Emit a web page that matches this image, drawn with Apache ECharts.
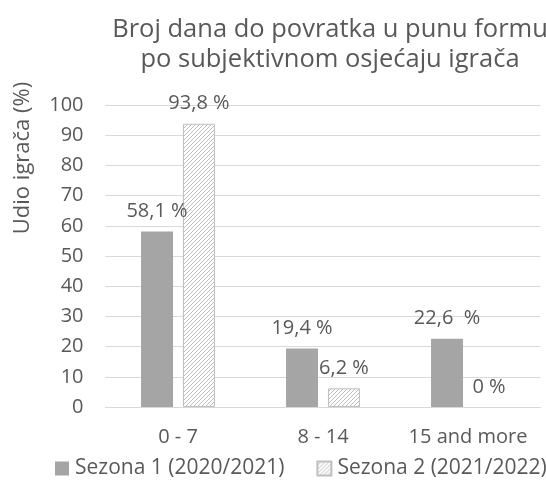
<!DOCTYPE html>
<html><head><meta charset="utf-8">
<script src="https://cdn.jsdelivr.net/npm/echarts@6/dist/echarts.min.js"></script>
<style>html,body{margin:0;padding:0;background:#fff}#c{width:546px;height:486px}</style>
</head><body><div id="c"></div>
<script>
const categories = ['0 - 7', '8 - 14', '15 and more'];
const season1 = [58.1, 19.4, 22.6];
const season2 = [93.8, 6.2, 0];
const season1Labels = ['58,1 %', '19,4 %', '22,6  %'];
const season2Labels = ['93,8 %', '6,2 %', '0 %'];
const seriesNames = ['Sezona 1 (2020/2021)', 'Sezona 2 (2021/2022)'];
const yTicks = [0, 100, 10];

const FONT = 'Open Sans';
const TXT = '#595959';

const cv = document.createElement('canvas');
cv.width = 4; cv.height = 4;
const cx = cv.getContext('2d');
cx.fillStyle = '#fff'; cx.fillRect(0, 0, 4, 4);
cx.strokeStyle = '#bcbcbc'; cx.lineWidth = 1;
cx.beginPath();
cx.moveTo(-1, 5); cx.lineTo(5, -1);
cx.moveTo(-1, 1); cx.lineTo(1, -1);
cx.moveTo(3, 5); cx.lineTo(5, 3);
cx.stroke();

const chart = echarts.init(document.getElementById('c'), null, {renderer: 'canvas'});
chart.setOption({
  animation: false,
  textStyle: {fontFamily: FONT, color: TXT},
  title: {
    text: 'Broj dana do povratka u punu formu\npo subjektivnom osjećaju igrača',
    left: 325, top: 10, textAlign: 'center',
    textStyle: {fontFamily: FONT, fontSize: 25.5, fontWeight: 'normal', color: TXT, lineHeight: 30}
  },
  graphic: [{
    type: 'text', x: 23, y: 158, rotation: Math.PI / 2,
    style: {text: 'Udio igrača (%)', fontFamily: FONT, fontSize: 22, fill: TXT, align: 'center', verticalAlign: 'middle'}
  }],
  legend: {
    bottom: 7, left: 55, width: 700, padding: 0, itemWidth: 14, itemHeight: 14, itemGap: 32,
    icon: 'rect',
    textStyle: {fontFamily: FONT, fontSize: 21, color: TXT, padding: [0, 0, 0, 1]},
    data: seriesNames
  },
  grid: {left: 105.5, right: 5.5, top: 105, bottom: 79},
  xAxis: {
    type: 'category', data: categories,
    axisLine: {lineStyle: {color: '#d9d9d9', width: 1}},
    axisTick: {show: false},
    axisLabel: {fontFamily: FONT, fontSize: 20, color: TXT, margin: 20, interval: 0}
  },
  yAxis: {
    type: 'value', min: yTicks[0], max: yTicks[1], interval: yTicks[2],
    axisLine: {show: false}, axisTick: {show: false},
    splitLine: {lineStyle: {color: '#d9d9d9', width: 1}},
    axisLabel: {fontFamily: FONT, fontSize: 20, color: TXT, margin: 22}
  },
  series: [
    {
      name: seriesNames[0], type: 'bar', data: season1, barWidth: 32, barGap: '31%',
      itemStyle: {color: '#a5a5a5'},
      label: {show: true, position: 'top', distance: 10, fontFamily: FONT, fontSize: 20, color: TXT,
        formatter: p => season1Labels[p.dataIndex]}
    },
    {
      name: seriesNames[1], type: 'bar', barWidth: 32,
      data: season2.map(v => ({value: v, itemStyle: v === 0 ? {borderWidth: 0} : {}})),
      itemStyle: {color: {image: cv, repeat: 'repeat'}, borderColor: '#bfbfbf', borderWidth: 1},
      label: {show: true, position: 'top', distance: 10, fontFamily: FONT, fontSize: 20, color: TXT,
        formatter: p => season2Labels[p.dataIndex]}
    }
  ]
});
</script></body></html>
